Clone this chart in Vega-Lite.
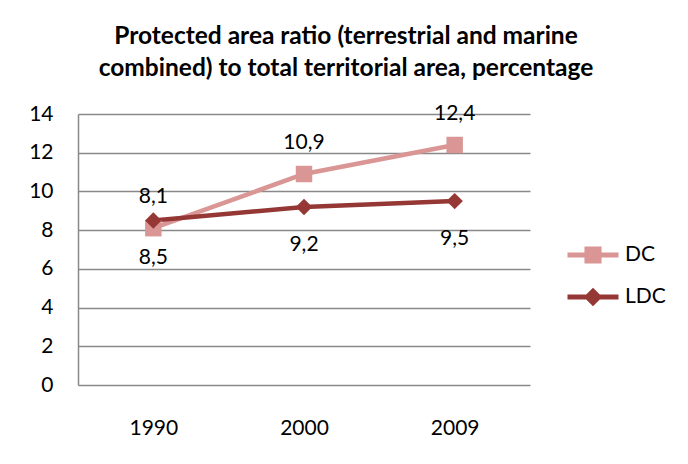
{
  "$schema": "https://vega.github.io/schema/vega-lite/v6.json",
  "width": 452,
  "height": 271,
  "autosize": {"type": "none"},
  "padding": {"left": 78, "top": 114, "right": 158, "bottom": 79},
  "background": "white",
  "title": {
    "text": ["Protected area ratio (terrestrial and marine", "combined) to total territorial area, percentage"],
    "font": "Lato",
    "fontSize": 24.5,
    "fontWeight": "bold",
    "color": "#000000",
    "lineHeight": 32,
    "anchor": "middle",
    "dx": 42,
    "offset": 21
  },
  "config": {
    "locale": {"number": {"decimal": ",", "thousands": ".", "grouping": [3], "currency": ["", " €"]}},
    "view": {"stroke": null},
    "font": "Lato"
  },
  "data": {
    "values": [
      {"year": "1990", "series": "DC", "value": 8.1},
      {"year": "2000", "series": "DC", "value": 10.9},
      {"year": "2009", "series": "DC", "value": 12.4},
      {"year": "1990", "series": "LDC", "value": 8.5},
      {"year": "2000", "series": "LDC", "value": 9.2},
      {"year": "2009", "series": "LDC", "value": 9.5}
    ]
  },
  "encoding": {
    "x": {
      "field": "year",
      "type": "ordinal",
      "scale": {"type": "point", "padding": 0.5},
      "axis": {
        "title": null,
        "labelAngle": 0,
        "domain": false,
        "ticks": false,
        "labelFont": "Lato",
        "labelFontSize": 21,
        "labelColor": "#000000",
        "labelPadding": 32
      }
    },
    "y": {
      "field": "value",
      "type": "quantitative",
      "scale": {"domain": [0, 14], "nice": false},
      "axis": {
        "title": null,
        "values": [0, 2, 4, 6, 8, 10, 12, 14],
        "domain": true,
        "domainColor": "#898989",
        "domainWidth": 1.5,
        "ticks": false,
        "grid": true,
        "gridColor": "#898989",
        "gridWidth": 1.5,
        "labelFont": "Lato",
        "labelFontSize": 21,
        "labelColor": "#000000",
        "labelPadding": 25
      }
    }
  },
  "layer": [
    {
      "mark": {"type": "line", "strokeWidth": 4.5},
      "encoding": {
        "color": {
          "field": "series",
          "type": "nominal",
          "scale": {"domain": ["DC", "LDC"], "range": ["#D99694", "#953735"]},
          "legend": {
            "title": null,
            "orient": "none",
            "legendX": 500,
            "legendY": 126,
            "padding": 0,
            "symbolSize": 900,
            "rowPadding": 17,
            "labelOffset": 17,
            "labelFont": "Lato",
            "labelFontSize": 21,
            "labelColor": "#000000",
            "encoding": {
              "symbols": {
                "shape": {
                  "condition": {"test": "datum.value === 'DC'", "value": "M-1.7,-0.17H1.7V0.17H-1.7Z M-0.57,-0.57H0.57V0.57H-0.57Z"},
                  "value": "M-1.7,-0.17H1.7V0.17H-1.7Z M0,-0.62L0.62,0L0,0.62L-0.62,0Z"
                },
                "fill": {
                  "condition": {"test": "datum.value === 'DC'", "value": "#D99694"},
                  "value": "#953735"
                },
                "strokeWidth": {"value": 0},
                "opacity": {"value": 1}
              }
            }
          }
        }
      }
    },
    {
      "transform": [{"filter": "datum.series === 'DC'"}],
      "mark": {"type": "point", "filled": true, "opacity": 1, "size": 270, "shape": "square", "color": "#D99694"}
    },
    {
      "transform": [{"filter": "datum.series === 'LDC'"}],
      "mark": {"type": "point", "filled": true, "opacity": 1, "size": 270, "shape": "diamond", "color": "#953735"}
    },
    {
      "transform": [{"filter": "datum.series === 'DC'"}],
      "mark": {"type": "text", "dy": -31, "font": "Lato", "fontSize": 21, "color": "#000000"},
      "encoding": {
        "text": {"field": "value", "type": "quantitative", "format": ".1f"}
      }
    },
    {
      "transform": [{"filter": "datum.series === 'LDC'"}],
      "mark": {"type": "text", "dy": 38, "font": "Lato", "fontSize": 21, "color": "#000000"},
      "encoding": {
        "text": {"field": "value", "type": "quantitative", "format": ".1f"}
      }
    }
  ]
}
